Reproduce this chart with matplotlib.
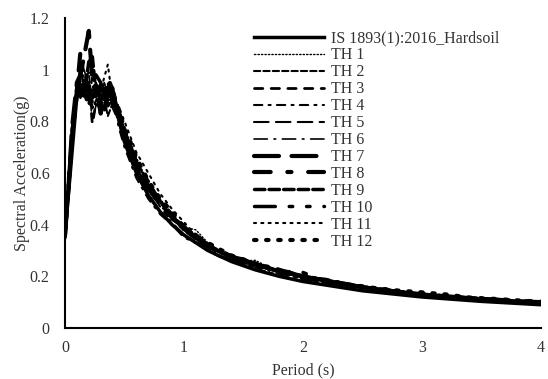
import numpy as np
import matplotlib
matplotlib.use("Agg")
import matplotlib.pyplot as plt

plt.rcParams['font.family'] = ['Liberation Serif', 'DejaVu Serif']

# design spectrum, IS 1893(1):2016 hard soil
T_is = [0, 0.1, 0.4, 0.5, 0.6, 0.7, 0.8, 0.9, 1.0, 1.2, 1.4, 1.6, 1.8, 2.0, 2.5, 3.0, 3.5, 4.0]
sa_is = [0.36, 0.9, 0.9, 0.72, 0.6, 0.514, 0.45, 0.4, 0.36, 0.3, 0.257, 0.225, 0.2, 0.18, 0.144, 0.12, 0.103, 0.09]

# periods for the time-history spectra
T = [0, 0.03, 0.06, 0.1, 0.13, 0.16, 0.2, 0.23, 0.26, 0.3, 0.33, 0.36, 0.4, 0.45, 0.5, 0.55, 0.6, 0.7,
     0.8, 0.9, 1.0, 1.1, 1.2, 1.3, 1.4, 1.5, 1.6, 1.8, 2.0, 2.2, 2.4, 2.6, 2.8, 3.0, 3.2, 3.4, 3.6, 3.8, 4.0]

th1 = [0.35, 0.54, 0.74, 0.90, 0.95, 0.98, 0.92, 0.88, 0.93, 0.91, 0.87, 0.92, 0.90, 0.86, 0.77, 0.72, 0.66, 0.56, 0.50, 0.44,
       0.39, 0.38, 0.33, 0.30, 0.28, 0.26, 0.262, 0.215, 0.195, 0.18, 0.168, 0.155, 0.142, 0.131, 0.124, 0.117, 0.11, 0.105, 0.10]
th2 = [0.37, 0.56, 0.77, 0.94, 0.90, 0.96, 0.99, 0.85, 0.88, 0.93, 0.89, 0.82, 0.87, 0.81, 0.74, 0.70, 0.62, 0.54, 0.47, 0.44,
       0.38, 0.345, 0.325, 0.29, 0.27, 0.255, 0.24, 0.225, 0.205, 0.182, 0.163, 0.15, 0.14, 0.128, 0.12, 0.115, 0.108, 0.103, 0.098]
th3 = [0.36, 0.53, 0.73, 0.88, 0.97, 0.91, 0.95, 0.79, 0.87, 0.85, 0.92, 0.95, 0.86, 0.84, 0.76, 0.67, 0.64, 0.57, 0.49, 0.42,
       0.39, 0.355, 0.31, 0.30, 0.28, 0.25, 0.25, 0.22, 0.195, 0.185, 0.17, 0.15, 0.138, 0.132, 0.121, 0.114, 0.111, 0.102, 0.097]
th4 = [0.34, 0.55, 0.76, 0.93, 0.89, 0.93, 0.88, 0.97, 0.92, 0.88, 0.86, 0.89, 0.91, 0.78, 0.70, 0.64, 0.58, 0.50, 0.44, 0.40,
       0.35, 0.33, 0.30, 0.275, 0.26, 0.245, 0.23, 0.205, 0.185, 0.172, 0.156, 0.146, 0.135, 0.124, 0.118, 0.111, 0.105, 0.1, 0.095]
th5 = [0.38, 0.57, 0.75, 0.91, 1.02, 0.93, 0.90, 0.89, 0.95, 0.87, 0.93, 0.88, 0.89, 0.85, 0.78, 0.70, 0.65, 0.55, 0.49, 0.43,
       0.40, 0.345, 0.315, 0.30, 0.27, 0.26, 0.25, 0.22, 0.2, 0.19, 0.162, 0.15, 0.142, 0.13, 0.12, 0.117, 0.11, 0.103, 0.1]
th6 = [0.35, 0.53, 0.72, 0.89, 0.92, 1.00, 0.94, 0.80, 0.86, 0.90, 0.95, 0.91, 0.85, 0.80, 0.71, 0.66, 0.59, 0.52, 0.45, 0.41,
       0.36, 0.335, 0.31, 0.28, 0.265, 0.25, 0.235, 0.21, 0.19, 0.172, 0.16, 0.148, 0.135, 0.126, 0.118, 0.112, 0.106, 0.1, 0.096]
th7 = [0.36, 0.55, 0.78, 0.95, 0.98, 1.05, 1.15, 0.96, 0.90, 0.94, 0.88, 0.93, 0.88, 0.83, 0.75, 0.70, 0.64, 0.54, 0.48, 0.43,
       0.385, 0.36, 0.32, 0.29, 0.275, 0.265, 0.245, 0.22, 0.2, 0.182, 0.165, 0.152, 0.14, 0.13, 0.121, 0.116, 0.11, 0.104, 0.1]
th8 = [0.37, 0.56, 0.74, 0.92, 1.07, 0.95, 0.91, 0.87, 0.94, 0.83, 0.90, 0.97, 0.92, 0.84, 0.76, 0.69, 0.63, 0.55, 0.47, 0.42,
       0.385, 0.35, 0.32, 0.3, 0.27, 0.255, 0.24, 0.225, 0.2, 0.18, 0.168, 0.15, 0.14, 0.13, 0.123, 0.115, 0.11, 0.105, 0.1]
th9 = [0.35, 0.54, 0.76, 0.91, 0.94, 0.90, 1.03, 1.05, 0.91, 0.88, 0.84, 0.89, 0.93, 0.82, 0.74, 0.68, 0.62, 0.54, 0.49, 0.44,
       0.38, 0.345, 0.325, 0.295, 0.28, 0.26, 0.245, 0.218, 0.198, 0.186, 0.163, 0.154, 0.141, 0.131, 0.121, 0.117, 0.109, 0.104, 0.098]
th10 = [0.36, 0.55, 0.77, 0.93, 0.91, 0.96, 0.89, 0.93, 0.98, 0.95, 0.91, 0.86, 0.90, 0.83, 0.75, 0.70, 0.63, 0.55, 0.48, 0.43,
        0.39, 0.35, 0.315, 0.295, 0.275, 0.26, 0.25, 0.22, 0.215, 0.18, 0.165, 0.152, 0.14, 0.13, 0.122, 0.116, 0.11, 0.104, 0.099]
th11 = [0.37, 0.56, 0.74, 0.90, 0.93, 0.89, 0.94, 0.90, 0.86, 0.92, 0.97, 1.02, 0.88, 0.86, 0.80, 0.74, 0.68, 0.60, 0.52, 0.46,
        0.41, 0.36, 0.32, 0.30, 0.285, 0.26, 0.25, 0.215, 0.19, 0.175, 0.17, 0.155, 0.145, 0.133, 0.127, 0.118, 0.112, 0.106, 0.101]
th12 = [0.36, 0.55, 0.75, 0.92, 0.95, 0.92, 0.86, 0.91, 0.89, 0.93, 0.88, 0.92, 0.89, 0.85, 0.77, 0.72, 0.66, 0.57, 0.50, 0.45,
        0.39, 0.355, 0.33, 0.305, 0.28, 0.265, 0.25, 0.225, 0.2, 0.185, 0.168, 0.155, 0.145, 0.138, 0.13, 0.118, 0.113, 0.107, 0.102]

th_all = [th1, th2, th3, th4, th5, th6, th7, th8, th9, th10, th11, th12]
labels = ["TH 1", "TH 2", "TH 3", "TH 4", "TH 5", "TH 6", "TH 7", "TH 8", "TH 9", "TH 10", "TH 11", "TH 12"]

# (linewidth, dash pattern) per record
styles = [
    (1.0, (1, 1.5)),
    (1.5, (3, 1.5)),
    (2.0, (3, 3)),
    (1.5, (4, 3, 1, 3)),
    (1.5, (7, 3.5)),
    (1.2, (8, 4, 1, 4)),
    (3.0, (6, 3)),
    (3.0, (4, 4, 1, 4)),
    (2.5, (3, 1.2)),
    (2.5, (6, 4, 1, 4, 1, 4)),
    (1.5, (1, 2.5)),
    (3.0, (0.6, 2.3)),
]

fig, ax = plt.subplots(figsize=(5.48, 3.79), dpi=100)
fig.subplots_adjust(left=0.1186, right=0.987, bottom=0.1346, top=0.9525)

ax.plot(T_is, sa_is, color='black', lw=2.5, label="IS 1893(1):2016_Hardsoil")
for vals, lab, (lw, dash) in zip(th_all, labels, styles):
    ax.plot(T, vals, color='black', lw=lw, linestyle=(0, dash), dash_capstyle='round', label=lab)

ax.set_xlim(0, 4)
ax.set_ylim(0, 1.2)
ax.set_xticks([0, 1, 2, 3, 4])
ax.set_yticks([0, 0.2, 0.4, 0.6, 0.8, 1.0, 1.2])
ax.set_xticklabels(["0", "1", "2", "3", "4"])
ax.set_yticklabels(["0", "0.2", "0.4", "0.6", "0.8", "1", "1.2"])
ax.tick_params(length=0, labelsize=11.5, colors='#333333')
ax.tick_params(axis='y', pad=11)
ax.tick_params(axis='x', pad=9)
for s in ['top', 'right']:
    ax.spines[s].set_visible(False)
for s in ['left', 'bottom']:
    ax.spines[s].set_linewidth(1.5)

ax.set_xlabel("Period (s)", fontsize=11.5, color='#333333', labelpad=4)
ax.set_ylabel("Spectral Acceleration(g)", fontsize=11.5, color='#333333', labelpad=0)

ax.legend(loc='upper left', bbox_to_anchor=(0.397, 0.96), frameon=False, fontsize=11.5,
          handlelength=4.4, handletextpad=0.4, labelspacing=0.06, borderpad=0, borderaxespad=0,
          labelcolor='#333333')

fig.savefig('out.png', dpi=100)
